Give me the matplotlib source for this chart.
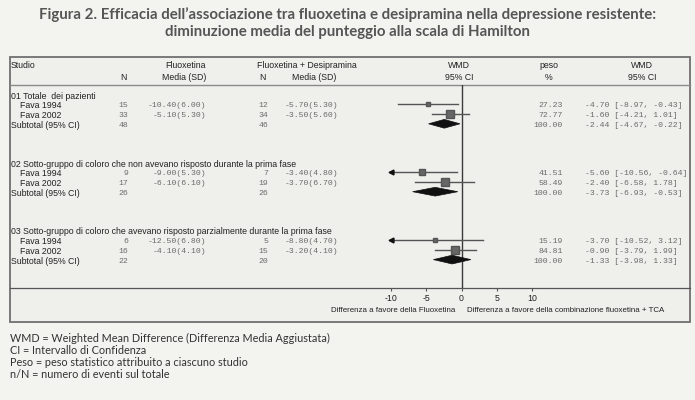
import matplotlib
matplotlib.use("Agg")
import matplotlib.pyplot as plt
import numpy as np
from matplotlib.patches import Rectangle, Polygon
from matplotlib.transforms import blended_transform_factory

# ---- data ----
sections = ["01 Totale  dei pazienti",
            "02 Sotto-gruppo di coloro che non avevano risposto durante la prima fase",
            "03 Sotto-gruppo di coloro che avevano risposto parzialmente durante la prima fase"]
studies = ["Fava 1994", "Fava 2002"]

n_fluox = [[15, 33], [9, 17], [6, 16]]
mean_fluox = [[-10.40, -5.10], [-9.00, -6.10], [-12.50, -4.10]]
sd_fluox = [[6.00, 5.30], [5.30, 6.10], [6.80, 4.10]]
n_comb = [[12, 34], [7, 19], [5, 15]]
mean_comb = [[-5.70, -3.50], [-3.40, -3.70], [-8.80, -3.20]]
sd_comb = [[5.30, 5.60], [4.80, 6.70], [4.70, 4.10]]

weight = [[27.23, 72.77], [41.51, 58.49], [15.19, 84.81]]
wmd = [[-4.70, -1.60], [-5.60, -2.40], [-3.70, -0.90]]
ci_lo = [[-8.97, -4.21], [-10.56, -6.58], [-10.52, -3.79]]
ci_hi = [[-0.43, 1.01], [-0.64, 1.78], [3.12, 1.99]]

sub_wmd = [-2.44, -3.73, -1.33]
sub_lo = [-4.67, -6.93, -3.98]
sub_hi = [-0.22, -0.53, 1.33]

xticks = [-10, -5, 0, 5, 10]

# ---- styling ----
bg_col = "#f3f3f0"
txt_col = "#222222"
mono_col = "#6a6a6a"
sans = ["Liberation Sans", "DejaVu Sans"]
mono = ["Liberation Mono", "DejaVu Sans Mono"]
fs = 6.3
fm = 5.85
fb = 5.7  # labels under the axis

W, H = 695, 400
fig = plt.figure(figsize=(W / 100, H / 100), dpi=100, facecolor=bg_col)

# background axes in pixel units for layout
bg = fig.add_axes([0, 0, 1, 1])
bg.set_xlim(0, W)
bg.set_ylim(H, 0)
bg.axis("off")

# forest plot axes: -10 at x=391px, 10 at x=532px, rows from y=85 to 288
top_px, bot_px = 85, 288
x_lo_px, x_hi_px = 391, 532
ax = fig.add_axes([x_lo_px / W, (H - bot_px) / H,
                   (x_hi_px - x_lo_px) / W, (bot_px - top_px) / H])
ax.set_facecolor("none")
n_rows = (bot_px - top_px) / 9.7
ax.set_xlim(-10, 10)
ax.set_ylim(n_rows, 0)
for s in ax.spines.values():
    s.set_visible(False)
ax.set_yticks([])
ax.set_xticks(xticks)
ax.set_xticklabels([str(t) for t in xticks], fontsize=fs, family=sans, color=txt_col)
ax.tick_params(axis="x", length=2, width=0.8, color="#555555", pad=2)

# title, shrunk to the width it has in the original (about 613 px)
title_lines = ["Figura 2. Efficacia dell\u2019associazione tra fluoxetina e desipramina nella depressione resistente:",
               "diminuzione media del punteggio alla scala di Hamilton"]
t1 = fig.text(0.5, 1 - 15 / H, title_lines[0], ha="center", va="center", fontsize=12,
              color="#555555", family=["Lato", "DejaVu Sans"], weight="bold")
renderer = fig.canvas.get_renderer()
w1 = t1.get_window_extent(renderer).width
tfs = 12 * 613 / w1
t1.set_fontsize(tfs)
fig.text(0.5, 1 - 32 / H, title_lines[1], ha="center", va="center", fontsize=tfs,
         color="#555555", family=["Lato", "DejaVu Sans"], weight="bold")

# panel box and separators
bg.add_patch(Rectangle((10, 57), 680, 265, facecolor="#efefec", edgecolor="#707070", lw=1.3))
bg.plot([10, 690], [top_px, top_px], color="#8a8a8a", lw=1.0)
bg.plot([10, 690], [bot_px, bot_px], color="#555555", lw=0.9)

# column headers
hdr = dict(fontsize=fs, family=sans, color=txt_col, va="center")
bg.text(11, 66, "Studio", ha="left", **hdr)
bg.text(186, 66, "Fluoxetina", ha="center", **hdr)
bg.text(123, 77.5, "N", ha="center", **hdr)
bg.text(206, 77.5, "Media (SD)", ha="right", **hdr)
bg.text(307, 66, "Fluoxetina + Desipramina", ha="center", **hdr)
bg.text(262, 77.5, "N", ha="center", **hdr)
bg.text(336, 77.5, "Media (SD)", ha="right", **hdr)
bg.text(459, 66, "WMD", ha="center", **hdr)
bg.text(459, 77.5, "95% CI", ha="center", **hdr)
bg.text(549, 66, "peso", ha="center", **hdr)
bg.text(549, 77.5, "%", ha="center", **hdr)
bg.text(642, 66, "WMD", ha="center", **hdr)
bg.text(642, 77.5, "95% CI", ha="center", **hdr)

# text placed with x in pixels and y in forest rows
tr = blended_transform_factory(bg.transData, ax.transData)
sans_kw = dict(fontsize=fs, family=sans, color=txt_col, va="center", transform=tr)
mono_kw = dict(fontsize=fm, family=mono, color=mono_col, va="center", transform=tr)
dy = 0.15

ax.axvline(0, color="#3a3a3a", lw=1.0, zorder=1)

for i, sec in enumerate(sections):
    r0 = 1 + 7 * i
    bg.text(11, r0 + dy, sec, ha="left", **sans_kw)
    for j, st in enumerate(studies):
        r = r0 + 1 + j
        bg.text(20, r + dy, st, ha="left", **sans_kw)
        bg.text(128, r + dy, f"{n_fluox[i][j]}", ha="right", **mono_kw)
        bg.text(206, r + dy, f"{mean_fluox[i][j]:.2f}({sd_fluox[i][j]:.2f})", ha="right", **mono_kw)
        bg.text(268, r + dy, f"{n_comb[i][j]}", ha="right", **mono_kw)
        bg.text(338, r + dy, f"{mean_comb[i][j]:.2f}({sd_comb[i][j]:.2f})", ha="right", **mono_kw)
        bg.text(563, r + dy, f"{weight[i][j]:.2f}", ha="right", **mono_kw)
        bg.text(585, r + dy, f"{wmd[i][j]:.2f} [{ci_lo[i][j]:.2f}, {ci_hi[i][j]:.2f}]", ha="left", **mono_kw)

        # CI line, clipped with arrow at -10
        lo = max(ci_lo[i][j], -10)
        ax.plot([lo, ci_hi[i][j]], [r, r], color="#555555", lw=1.0, zorder=2)
        if ci_lo[i][j] < -10:
            ax.plot([-10], [r], marker="<", ms=3.5, color="#111111", zorder=3, clip_on=False)
        side = 0.95 * np.sqrt(weight[i][j])
        ax.plot([wmd[i][j]], [r], marker="s", ms=side * 0.72, color="#666666",
                markeredgecolor="#555555", zorder=3)

    rs = r0 + 3
    bg.text(11, rs + dy, "Subtotal (95% CI)", ha="left", **sans_kw)
    bg.text(128, rs + dy, f"{sum(n_fluox[i])}", ha="right", **mono_kw)
    bg.text(268, rs + dy, f"{sum(n_comb[i])}", ha="right", **mono_kw)
    bg.text(563, rs + dy, "100.00", ha="right", **mono_kw)
    bg.text(585, rs + dy, f"{sub_wmd[i]:.2f} [{sub_lo[i]:.2f}, {sub_hi[i]:.2f}]", ha="left", **mono_kw)
    dh = 0.45
    ax.add_patch(Polygon([[sub_lo[i], rs], [sub_wmd[i], rs - dh], [sub_hi[i], rs], [sub_wmd[i], rs + dh]],
                         closed=True, facecolor="#111111", edgecolor="#111111", lw=0.5, zorder=4))

# labels under the axis
bg.text(455, 310, "Differenza a favore della Fluoxetina", ha="right", va="center",
        fontsize=fb, family=sans, color=txt_col)
bg.text(467, 310, "Differenza a favore della combinazione fluoxetina + TCA", ha="left", va="center",
        fontsize=fb, family=sans, color=txt_col)

# footnotes
notes = ["WMD = Weighted Mean Difference (Differenza Media Aggiustata)",
         "CI = Intervallo di Confidenza",
         "Peso = peso statistico attribuito a ciascuno studio",
         "n/N = numero di eventi sul totale"]
for k, line in enumerate(notes):
    bg.text(10, 338 + 12 * k, line, ha="left", va="center", fontsize=7.8,
            family=["Lato", "DejaVu Sans"], color="#333333")

fig.savefig("out.png", dpi=100, facecolor=bg_col)
